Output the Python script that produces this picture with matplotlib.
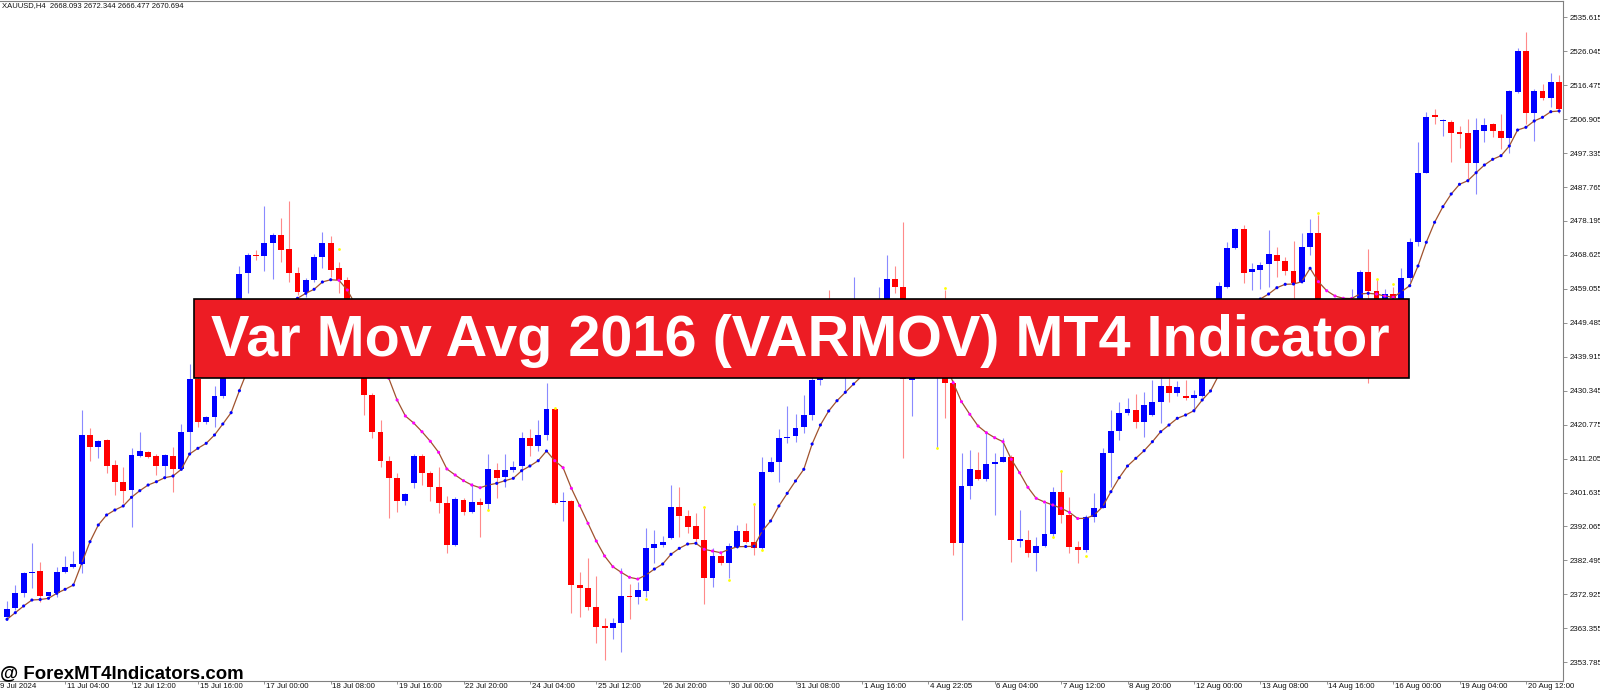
import matplotlib
matplotlib.use("Agg")
import matplotlib.pyplot as plt
from matplotlib.patches import Rectangle
from matplotlib.transforms import blended_transform_factory
import numpy as np

plt.rcParams['font.family'] = ['Liberation Sans', 'DejaVu Sans']

## H4 candles (index 0 = first visible bar)
opens = [2366.5, 2369.0, 2373.2, 2379.0, 2379.5, 2372.5, 2373.4, 2379.3, 2380.6, 2381.5,
         2417.9, 2414.6, 2416.4, 2409.4, 2404.7, 2402.3, 2412.0, 2413.1, 2411.9, 2409.1,
         2412.0, 2408.4, 2418.6, 2433.6, 2421.6, 2423.0, 2428.9, 2437.6, 2446.0, 2463.4,
         2468.7, 2468.3, 2471.9, 2474.2, 2470.2, 2463.4, 2458.1, 2461.6, 2468.0, 2472.1,
         2464.9, 2461.6, 2450.3, 2441.8, 2429.1, 2418.6, 2410.6, 2405.8, 2399.3, 2404.2,
         2412.0, 2407.2, 2403.1, 2398.6, 2386.8, 2399.5, 2396.2, 2398.9, 2398.4, 2408.0,
         2405.9, 2408.0, 2409.1, 2416.9, 2414.8, 2417.9, 2425.2, 2398.9, 2399.3, 2375.6,
         2374.8, 2369.4, 2364.0, 2363.4, 2364.8, 2372.5, 2372.3, 2374.0, 2385.9, 2386.8,
         2388.7, 2397.6, 2395.1, 2392.2, 2388.2, 2377.5, 2383.7, 2381.9, 2386.2, 2390.8,
         2387.8, 2386.1, 2407.5, 2410.3, 2416.9, 2417.7, 2420.2, 2423.5, 2433.4, 2447.5,
         2441.8, 2439.0, 2448.9, 2454.5, 2450.3, 2446.0, 2454.5, 2461.8, 2459.5, 2433.4,
         2441.8, 2439.0, 2437.6, 2447.5, 2432.4, 2387.5, 2403.5, 2408.0, 2405.4, 2409.6,
         2410.3, 2411.6, 2388.1, 2388.3, 2384.5, 2386.6, 2389.9, 2401.7, 2395.3, 2386.2,
         2385.4, 2394.8, 2397.4, 2412.7, 2419.1, 2424.0, 2424.9, 2421.4, 2423.5, 2427.2,
         2431.8, 2429.6, 2428.7, 2428.2, 2428.9, 2439.0, 2450.3, 2459.7, 2470.5, 2475.8,
         2463.7, 2464.4, 2466.0, 2468.6, 2467.0, 2464.2, 2461.1, 2470.9, 2474.7, 2450.3,
         2448.9, 2451.7, 2453.1, 2454.5, 2463.7, 2458.5, 2454.5, 2457.6, 2454.5, 2462.2,
         2472.2, 2491.8, 2507.9, 2506.4, 2506.2, 2503.1, 2502.9, 2494.5, 2503.6, 2505.5,
         2503.6, 2501.7, 2514.6, 2526.1, 2508.6, 2514.8, 2512.9, 2517.3]
highs = [2371.1, 2375.6, 2379.3, 2387.3, 2382.1, 2373.7, 2380.7, 2383.7, 2385.2, 2424.9,
         2419.7, 2416.4, 2416.6, 2410.8, 2408.7, 2414.1, 2418.6, 2413.4, 2412.4, 2412.5,
         2414.4, 2420.9, 2437.8, 2434.8, 2423.2, 2431.8, 2439.0, 2447.5, 2465.5, 2469.1,
         2470.0, 2482.4, 2474.8, 2479.0, 2483.8, 2465.3, 2462.1, 2468.9, 2475.0, 2474.0,
         2466.6, 2462.3, 2451.7, 2443.2, 2429.6, 2422.1, 2411.9, 2407.1, 2401.4, 2412.5,
         2412.5, 2407.8, 2408.9, 2400.7, 2400.5, 2400.0, 2404.4, 2400.0, 2412.5, 2409.9,
         2412.5, 2410.6, 2418.8, 2419.5, 2422.1, 2432.4, 2425.4, 2401.9, 2399.5, 2379.3,
         2383.1, 2378.1, 2366.2, 2366.2, 2380.3, 2375.8, 2376.5, 2391.5, 2391.1, 2389.5,
         2403.8, 2403.1, 2396.7, 2395.8, 2397.2, 2385.9, 2385.0, 2387.3, 2392.5, 2393.1,
         2398.1, 2411.7, 2411.7, 2419.5, 2426.0, 2423.7, 2429.1, 2434.8, 2446.0, 2458.7,
         2450.3, 2453.1, 2462.5, 2455.9, 2453.1, 2459.5, 2468.6, 2465.5, 2478.0, 2443.2,
         2444.6, 2446.0, 2447.5, 2458.7, 2433.4, 2412.7, 2413.6, 2413.1, 2418.3, 2412.9,
         2416.9, 2412.2, 2396.7, 2391.1, 2389.0, 2398.6, 2403.1, 2407.5, 2400.3, 2388.0,
         2395.3, 2401.4, 2414.1, 2424.9, 2427.2, 2428.2, 2429.3, 2430.1, 2433.4, 2433.8,
         2433.8, 2433.1, 2433.4, 2430.5, 2440.4, 2451.7, 2461.1, 2472.4, 2476.1, 2477.1,
         2466.3, 2466.7, 2475.7, 2470.9, 2468.0, 2472.6, 2474.7, 2478.8, 2479.9, 2454.5,
         2453.1, 2453.1, 2458.9, 2464.4, 2470.2, 2461.5, 2458.9, 2459.7, 2464.9, 2473.4,
         2500.5, 2509.0, 2509.7, 2506.9, 2506.7, 2505.0, 2506.9, 2507.3, 2507.3, 2505.9,
         2508.3, 2515.1, 2527.0, 2531.6, 2515.3, 2516.7, 2519.8, 2519.4]
lows = [2365.7, 2368.5, 2372.3, 2374.6, 2370.9, 2372.1, 2372.3, 2379.0, 2380.3, 2378.9,
        2410.5, 2411.5, 2407.2, 2400.9, 2398.8, 2392.0, 2411.7, 2411.4, 2406.6, 2405.9,
        2401.9, 2408.0, 2412.7, 2420.0, 2420.9, 2420.2, 2428.3, 2436.7, 2444.6, 2457.8,
        2467.2, 2464.2, 2461.8, 2466.7, 2460.9, 2457.3, 2456.8, 2461.0, 2464.9, 2462.5,
        2457.9, 2448.9, 2439.0, 2423.5, 2416.9, 2408.9, 2394.4, 2396.2, 2398.1, 2402.8,
        2403.8, 2399.3, 2395.8, 2384.5, 2386.6, 2395.3, 2395.8, 2389.0, 2396.7, 2400.0,
        2403.1, 2407.4, 2405.2, 2411.9, 2413.3, 2416.4, 2398.5, 2393.7, 2367.6, 2366.6,
        2368.5, 2359.1, 2354.4, 2360.3, 2356.8, 2365.9, 2370.2, 2372.3, 2381.7, 2386.4,
        2388.4, 2389.2, 2390.1, 2387.3, 2370.2, 2374.9, 2381.2, 2377.5, 2385.9, 2387.3,
        2384.0, 2385.6, 2407.3, 2404.5, 2415.7, 2416.0, 2418.3, 2422.1, 2432.0, 2439.0,
        2439.0, 2430.3, 2446.0, 2447.5, 2443.2, 2444.6, 2453.1, 2457.8, 2411.3, 2423.2,
        2436.2, 2437.6, 2414.3, 2422.6, 2384.0, 2365.7, 2399.7, 2405.2, 2405.0, 2395.3,
        2410.2, 2382.1, 2386.4, 2383.5, 2379.6, 2386.4, 2389.2, 2393.0, 2384.5, 2381.7,
        2384.9, 2393.4, 2397.2, 2403.1, 2416.4, 2423.5, 2419.7, 2417.4, 2423.3, 2421.3,
        2427.2, 2428.9, 2427.7, 2424.4, 2428.7, 2437.6, 2448.9, 2459.2, 2470.2, 2460.6,
        2458.7, 2458.9, 2459.7, 2462.3, 2463.0, 2455.9, 2460.6, 2468.6, 2447.5, 2444.6,
        2446.0, 2447.5, 2450.3, 2453.1, 2432.4, 2451.7, 2453.1, 2454.5, 2453.1, 2461.1,
        2471.1, 2491.6, 2505.5, 2502.2, 2494.9, 2498.7, 2489.3, 2485.8, 2500.5, 2502.0,
        2498.5, 2497.3, 2514.2, 2505.5, 2500.7, 2512.3, 2510.2, 2508.6]
closes = [2368.8, 2373.2, 2379.0, 2379.3, 2372.5, 2373.5, 2379.3, 2380.6, 2381.5, 2417.9,
          2414.6, 2416.3, 2409.2, 2404.7, 2402.2, 2412.2, 2413.3, 2411.7, 2409.1, 2412.1,
          2408.4, 2418.6, 2433.6, 2421.6, 2423.0, 2428.9, 2437.6, 2446.0, 2463.2, 2468.6,
          2468.3, 2471.9, 2474.2, 2470.0, 2463.4, 2458.1, 2461.6, 2468.1, 2472.1, 2464.4,
          2461.6, 2450.3, 2441.8, 2429.1, 2418.6, 2410.6, 2405.8, 2399.3, 2401.1, 2412.0,
          2407.2, 2403.1, 2398.6, 2386.8, 2399.7, 2396.2, 2398.9, 2398.1, 2408.2, 2405.8,
          2408.0, 2408.9, 2416.9, 2414.8, 2417.9, 2425.2, 2398.8, 2399.0, 2375.6, 2374.6,
          2369.4, 2363.8, 2363.4, 2364.8, 2372.5, 2372.1, 2374.2, 2385.9, 2387.0, 2387.8,
          2397.6, 2395.1, 2392.0, 2388.4, 2377.5, 2383.8, 2381.7, 2386.6, 2390.8, 2387.8,
          2385.9, 2407.5, 2410.3, 2416.9, 2417.4, 2419.9, 2423.5, 2433.4, 2443.2, 2441.8,
          2447.5, 2450.3, 2454.5, 2450.3, 2446.0, 2454.5, 2461.7, 2459.5, 2433.6, 2441.8,
          2439.0, 2443.2, 2444.6, 2432.4, 2387.3, 2403.5, 2408.2, 2405.4, 2409.6, 2410.2,
          2411.6, 2388.3, 2388.4, 2384.5, 2386.6, 2389.9, 2401.7, 2395.3, 2386.4, 2385.4,
          2394.8, 2397.2, 2412.7, 2419.1, 2424.0, 2425.1, 2421.6, 2426.2, 2427.2, 2431.8,
          2429.6, 2431.3, 2428.4, 2429.1, 2439.0, 2450.3, 2459.9, 2470.5, 2475.8, 2463.4,
          2464.6, 2465.8, 2468.8, 2467.0, 2464.2, 2460.6, 2470.9, 2474.7, 2450.3, 2448.9,
          2451.7, 2453.1, 2455.9, 2463.7, 2458.5, 2454.5, 2457.6, 2456.4, 2462.0, 2472.4,
          2491.6, 2507.6, 2507.6, 2506.7, 2503.1, 2502.8, 2494.5, 2503.8, 2505.3, 2503.6,
          2501.5, 2514.8, 2526.1, 2508.6, 2514.8, 2512.8, 2517.3, 2509.7]

## VARMOV line value at each bar
varmov = [2365.89, 2367.76, 2369.64, 2371.33, 2371.47, 2371.81, 2373.22, 2374.35, 2375.56, 2381.68,
          2387.77, 2392.48, 2395.30, 2396.71, 2397.84, 2400.29, 2402.15, 2403.75, 2404.68, 2405.81,
          2406.29, 2408.18, 2412.49, 2414.10, 2415.51, 2417.85, 2420.95, 2424.14, 2430.34, 2436.18,
          2441.81, 2446.61, 2450.84, 2453.66, 2455.35, 2456.39, 2457.80, 2458.93, 2460.99, 2461.63,
          2461.47, 2458.73, 2454.50, 2448.86, 2443.22, 2438.43, 2433.84, 2427.72, 2423.21, 2421.23,
          2418.78, 2416.08, 2412.97, 2408.27, 2406.57, 2404.97, 2403.75, 2402.99, 2403.75, 2404.23,
          2404.97, 2405.64, 2407.79, 2409.11, 2410.60, 2413.34, 2410.60, 2408.63, 2402.82, 2397.92,
          2392.96, 2387.96, 2383.74, 2380.72, 2379.14, 2377.73, 2377.25, 2378.38, 2380.07, 2381.48,
          2384.22, 2385.90, 2387.12, 2387.32, 2385.62, 2385.14, 2384.66, 2385.62, 2386.36, 2386.42,
          2386.47, 2390.79, 2393.61, 2397.84, 2401.41, 2404.88, 2408.18, 2415.31, 2420.67, 2424.62,
          2427.52, 2429.89, 2432.23, 2434.49, 2436.74, 2439.56, 2443.22, 2446.04, 2446.30, 2446.60,
          2446.80, 2447.00, 2446.20, 2438.43, 2432.60, 2427.24, 2423.69, 2420.39, 2418.50, 2417.09,
          2415.96, 2411.00, 2407.22, 2403.10, 2400.00, 2398.96, 2398.12, 2397.19, 2396.06, 2394.31,
          2394.37, 2395.30, 2397.64, 2401.86, 2405.81, 2409.11, 2411.28, 2413.43, 2415.96, 2418.78,
          2420.67, 2422.56, 2423.49, 2424.70, 2427.72, 2430.26, 2434.77, 2440.40, 2446.04, 2450.84,
          2454.22, 2456.19, 2457.60, 2459.38, 2460.34, 2460.42, 2461.07, 2464.85, 2461.07, 2458.53,
          2457.04, 2456.39, 2456.33, 2457.60, 2457.80, 2457.60, 2457.04, 2456.67, 2458.25, 2459.94,
          2465.50, 2472.18, 2477.82, 2482.22, 2485.80, 2488.53, 2489.55, 2491.80, 2493.97, 2495.58,
          2496.59, 2499.33, 2503.84, 2504.60, 2506.38, 2507.42, 2509.00, 2509.20]

# small yellow signal dots
signal_bars = [40, 58, 66, 77, 84, 87, 90, 91, 112, 113, 126, 127, 130, 158, 165, 167]
signal_prices = [2470.2, 2396.7, 2425.4, 2371.6, 2397.5, 2377.0, 2398.4, 2385.4, 2414.3, 2459.2,
                 2389.0, 2407.7, 2383.8, 2480.4, 2461.8, 2460.3]

price_labels = ['2535.615', '2526.045', '2516.475', '2506.905', '2497.335', '2487.765', '2478.195',
                '2468.625', '2459.055', '2449.485', '2439.915', '2430.345', '2420.775', '2411.205',
                '2401.635', '2392.065', '2382.495', '2372.925', '2363.355', '2353.785']
time_bars = [-1, 7, 15, 23, 31, 39, 47, 55, 63, 71, 79, 87, 95, 103, 111, 119, 127, 135, 143,
             151, 159, 167, 175, 183]
time_labels = ['9 Jul 2024', '11 Jul 04:00', '12 Jul 12:00', '15 Jul 16:00', '17 Jul 00:00',
               '18 Jul 08:00', '19 Jul 16:00', '22 Jul 20:00', '24 Jul 04:00', '25 Jul 12:00',
               '26 Jul 20:00', '30 Jul 00:00', '31 Jul 08:00', '1 Aug 16:00', '4 Aug 22:05',
               '6 Aug 04:00', '7 Aug 12:00', '8 Aug 20:00', '12 Aug 00:00', '13 Aug 08:00',
               '14 Aug 16:00', '16 Aug 00:00', '19 Aug 04:00', '20 Aug 12:00']


W, H = 1600, 690
fig = plt.figure(figsize=(16, 6.9), dpi=100)
ax = fig.add_axes([0, 9.5 / H, 1563 / W, 679.5 / H])

o = np.array(opens); c = np.array(closes)
x = np.arange(len(o))
up = c >= o
ax.vlines(x, lows, highs, colors=np.where(up, '#8a8aff', '#ff8a8a'), linewidth=0.8, zorder=2)
ax.bar(x, np.maximum(np.abs(c - o), 0.35), bottom=np.minimum(o, c), width=0.72,
       color=np.where(up, '#0000ff', '#ff0000'), linewidth=0, zorder=3)

# VARMOV line + dots (blue rising / magenta falling)
vm = np.array(varmov)
rising = np.r_[True, np.diff(vm) >= 0]
ax.plot(x, vm, color='#a0522d', lw=0.9, zorder=4)
ax.scatter(x, vm, s=5, c=np.where(rising, '#0000ff', '#ff00ff'), linewidths=0, zorder=5)
ax.scatter(signal_bars, signal_prices, s=4, c='#ffff00', linewidths=0, zorder=5)

ax.set_xlim(-7 / 8.3, 1556 / 8.3)
ax.set_ylim(2348.64, 2540.21)

# axes look
for s in ['top', 'right', 'bottom']:
    ax.spines[s].set_color('#808080')
    ax.spines[s].set_linewidth(0.8)
ax.spines['left'].set_visible(False)
ax.yaxis.tick_right()
ax.set_yticks([float(p) for p in price_labels])
ax.set_yticklabels(price_labels)
ax.tick_params(axis='y', length=3, width=0.6, color='#808080', labelsize=5.7, pad=1.5,
               labelcolor='#111111')
ax.set_xticks(time_bars[1:])
ax.set_xticklabels([])
ax.tick_params(axis='x', length=2.5, width=0.6, color='#808080')
tr = blended_transform_factory(ax.transData, ax.transAxes)
for b, lab in zip(time_bars, time_labels):
    ax.text(b + 0.2, -0.0095, lab, transform=tr, fontsize=5.7, ha='left', va='center',
            color='#111111', clip_on=False)

fig.text(2 / W, 1 - 6 / H, 'XAUUSD,H4  2668.093 2672.344 2666.477 2670.694', fontsize=5.5,
         va='center', ha='left', color='#111111')

# banner
fig.add_artist(Rectangle((194 / W, 1 - 377.5 / H), (1409 - 194) / W, 78.5 / H,
                         transform=fig.transFigure, facecolor='#ed1c24', edgecolor='black',
                         linewidth=1.2, zorder=10))
fig.text(800 / W, 1 - 341 / H, 'Var Mov Avg 2016 (VARMOV) MT4 Indicator', fontsize=41.5,
         fontweight='bold', color='white', ha='center', va='center', zorder=11)

fig.text(0.5 / W, 1 - 678 / H, '@ ForexMT4Indicators.com', fontsize=13.4, fontweight='bold',
         color='black', ha='left', va='baseline', zorder=11)

fig.savefig('out.png', dpi=100)
